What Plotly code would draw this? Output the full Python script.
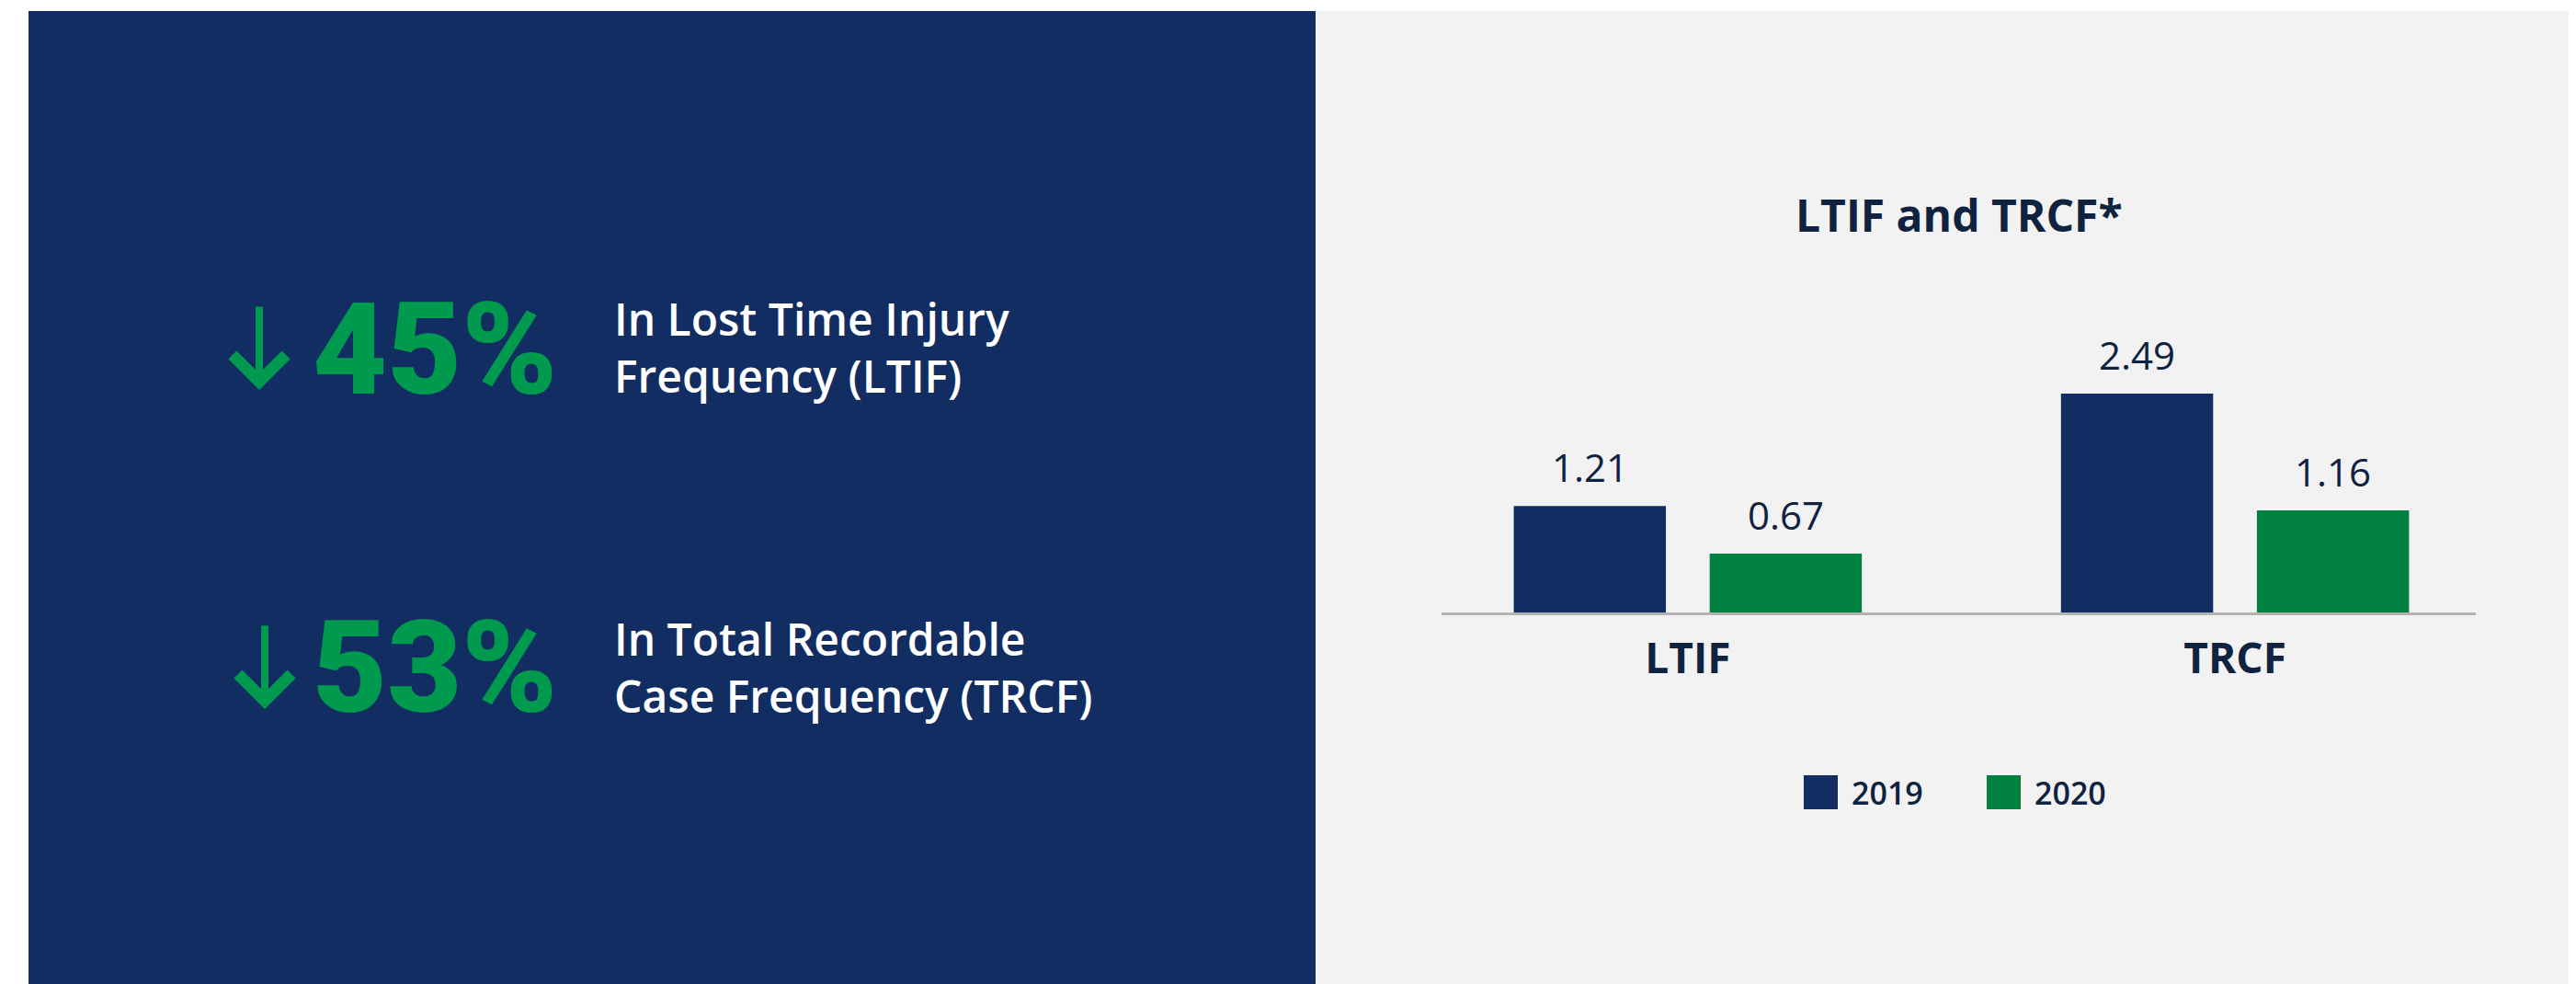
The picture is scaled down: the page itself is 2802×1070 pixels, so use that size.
import plotly.graph_objects as go

# ---------------- data ----------------
categories = ["LTIF", "TRCF"]
series_names = ["2019", "2020"]
values_2019 = [1.21, 2.49]
values_2020 = [0.67, 1.16]
headline_values = ["45%", "53%"]
headline_texts = ["In Lost Time Injury<br>Frequency (LTIF)",
                  "In Total Recordable<br>Case Frequency (TRCF)"]
chart_title = "LTIF and TRCF*"

# ---------------- style ----------------
PAGE_OFF = 8                       # browser body margin
W, H = 2802 - PAGE_OFF, 1070 - PAGE_OFF
NAVY = "#112d62"
GREEN_BAR = "#00803f"
GREEN_TXT = "#009a4e"
TXT_NAVY = "#0f2341"
GRAY_BG = "#f2f2f2"
FONT = "Open Sans"
HEAVY = "Roboto Black, Roboto, Inter"


def px(x):
    return (x - PAGE_OFF) / W


def py(y):
    return (H - (y - PAGE_OFF)) / H


# axis geometry (target page pixels)
x_range = [-0.45, 1.44]
dom_x = [px(1568), px(2693)]
y_bottom_px, y_top_px = 666, 300
y_max = 2.49 * (y_bottom_px - y_top_px) / (y_bottom_px - 428)
dom_y = [py(y_bottom_px), py(y_top_px)]
unit_px = (2693 - 1568) / (x_range[1] - x_range[0])

bar_w = 0.278
offsets = [-0.318, 0.040]
series_vals = [values_2019, values_2020]
colors = [NAVY, GREEN_BAR]

fig = go.Figure()
for name, vals, off, col in zip(series_names, series_vals, offsets, colors):
    fig.add_trace(go.Bar(
        x=categories, y=vals, name=name, width=bar_w, offset=off,
        marker=dict(color=col, line=dict(width=0)),
        showlegend=False, hoverinfo="x+y+name",
    ))

annotations = []
shapes = []

# value labels
for vals, off in zip(series_vals, offsets):
    shift = (off + bar_w / 2) * unit_px
    for c, v in zip(categories, vals):
        annotations.append(dict(
            x=c, y=v, xref="x", yref="y", text=f"{v:.2f}", showarrow=False,
            xshift=shift, yshift=12, yanchor="bottom", xanchor="center",
            font=dict(family=FONT, size=42, color=TXT_NAVY, weight=400),
        ))

# title
annotations.append(dict(
    x=(dom_x[0] + dom_x[1]) / 2, y=py(233), xref="paper", yref="paper",
    text=chart_title, showarrow=False, xanchor="center", yanchor="middle",
    font=dict(family=FONT, size=48, color=TXT_NAVY, weight=700),
))

# manual legend
leg_items = [(series_names[0], NAVY, 1962), (series_names[1], GREEN_BAR, 2161)]
for name, col, x0 in leg_items:
    shapes.append(dict(type="rect", xref="paper", yref="paper",
                       x0=px(x0), x1=px(x0 + 37), y0=py(880), y1=py(843),
                       fillcolor=col, line=dict(width=0), layer="above"))
    annotations.append(dict(
        x=px(x0 + 50), y=py(862), xref="paper", yref="paper", text=name,
        showarrow=False, xanchor="left", yanchor="middle",
        font=dict(family=FONT, size=34, color=TXT_NAVY, weight=600),
    ))

# panels
shapes.append(dict(type="rect", xref="paper", yref="paper",
                   x0=px(31), x1=px(1431), y0=0, y1=py(12),
                   fillcolor=NAVY, line=dict(width=0), layer="below"))
shapes.append(dict(type="rect", xref="paper", yref="paper",
                   x0=px(1431), x1=1, y0=0, y1=py(12),
                   fillcolor=GRAY_BG, line=dict(width=0), layer="below"))

# headline blocks
rows = [dict(tip=(282, 424), tail_len=92, num_y=380, txt_y=378),
        dict(tip=(288, 771), tail_len=92, num_y=726, txt_y=725)]
for hv, ht, r in zip(headline_values, headline_texts, rows):
    tx, ty = r["tip"]
    annotations.append(dict(
        x=px(tx), y=py(ty), xref="paper", yref="paper", text="",
        showarrow=True, ax=0, ay=-r["tail_len"], arrowhead=4, arrowwidth=8,
        arrowsize=1.4, arrowcolor=GREEN_TXT, standoff=0, startstandoff=0,
    ))
    annotations.append(dict(
        x=px(338), y=py(r["num_y"]), xref="paper", yref="paper", text=hv,
        showarrow=False, xanchor="left", yanchor="middle",
        font=dict(family=HEAVY, size=140, color=GREEN_TXT, weight=900),
    ))
    annotations.append(dict(
        x=px(666), y=py(r["txt_y"]), xref="paper", yref="paper", text=ht,
        showarrow=False, xanchor="left", yanchor="middle", align="left",
        font=dict(family=FONT, size=48, color="#ffffff", weight=600),
    ))

fig.update_layout(
    width=W, height=H,
    margin=dict(l=0, r=0, t=0, b=0),
    paper_bgcolor="#ffffff", plot_bgcolor="rgba(0,0,0,0)",
    barmode="overlay",
    xaxis=dict(domain=dom_x, range=x_range, type="category",
               showline=True, linecolor="#b3b3b3", linewidth=3,
               showgrid=False, zeroline=False, ticks="",
               tickfont=dict(family=FONT, size=46, color=TXT_NAVY, weight=700),
               ticklabelstandoff=8, layer="below traces", fixedrange=True),
    yaxis=dict(domain=dom_y, range=[0, y_max], visible=False, fixedrange=True),
    annotations=annotations, shapes=shapes,
    font=dict(family=FONT),
)

fig.write_html("out.html")
